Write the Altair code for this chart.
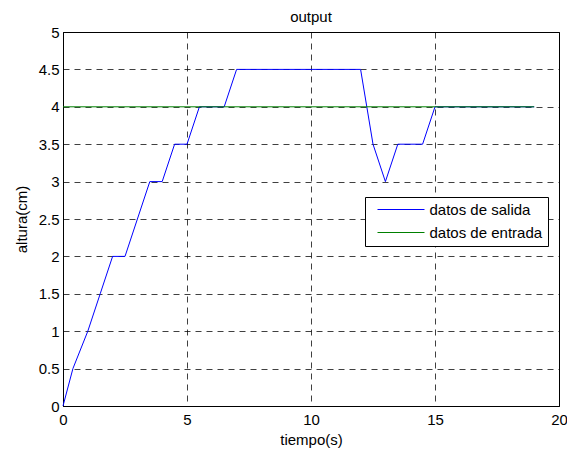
import altair as alt
import pandas as pd

# ---- data ----
t_salida = [0, 0.4, 1, 1.5, 2, 2.5, 3.5, 4, 4.5, 5, 5.5, 6.5, 7, 12, 12.5, 13, 13.5, 14.5, 15, 19]
y_salida = [0, 0.5, 1, 1.5, 2, 2, 3, 3, 3.5, 3.5, 4, 4, 4.5, 4.5, 3.5, 3, 3.5, 3.5, 4, 4]
t_entrada = [0, 19]
y_entrada = [4, 4]
series = ["datos de salida", "datos de entrada"]
colors = ["#0000ff", "#008000"]
x_ticks = [0, 5, 10, 15, 20]
y_ticks = [0, 0.5, 1, 1.5, 2, 2.5, 3, 3.5, 4, 4.5, 5]

rows = []
i = 0
for t, y in zip(t_salida, y_salida):
    rows.append({"t": t, "y": y, "serie": series[0], "idx": i}); i += 1
for t, y in zip(t_entrada, y_entrada):
    rows.append({"t": t, "y": y, "serie": series[1], "idx": i}); i += 1
df = pd.DataFrame(rows)

FONT = "Liberation Sans"

chart = alt.Chart(df).mark_line(strokeWidth=1).encode(
    x=alt.X("t:Q",
            scale=alt.Scale(domain=[0, 20], nice=False, zero=False),
            axis=alt.Axis(values=x_ticks, title="tiempo(s)", format="~g",
                          labelFlush=False, labelOverlap=False,
                          labelBaseline="alphabetic", labelPadding=18,
                          ticks=False, tickSize=0,
                          titleX=248, titleY=38, titleAlign="center",
                          titleBaseline="alphabetic")),
    y=alt.Y("y:Q",
            scale=alt.Scale(domain=[0, 5], nice=False, zero=False),
            axis=alt.Axis(values=y_ticks, title="altura(cm)", format="~g",
                          labelFlush=False, labelOverlap=False,
                          labelPadding=4, ticks=False, tickSize=0,
                          titleX=-37, titleY=187, titleAlign="center",
                          titleBaseline="alphabetic", titleAngle=270)),
    color=alt.Color("serie:N",
                    scale=alt.Scale(domain=series, range=colors),
                    legend=alt.Legend(orient="none", legendX=302, legendY=165,
                                      title=None,
                                      symbolType="M-4.7,0H4.7", symbolSize=100,
                                      symbolStrokeWidth=1,
                                      padding=5, rowPadding=7,
                                      symbolOffset=23.5, labelOffset=21,
                                      strokeColor="black", fillColor="white",
                                      cornerRadius=0,
                                      labelFont=FONT, labelFontSize=15,
                                      labelColor="black",
                                      labelExpr="datum.label + '  '")),
    order=alt.Order("idx:Q"),
).properties(
    width=496,
    height=374,
    padding={"left": 63, "top": 32, "right": 8, "bottom": 46},
    autosize=alt.AutoSizeParams(type="none"),
    title=alt.TitleParams(text="output", fontSize=15, font=FONT,
                          fontWeight="normal", color="black",
                          offset=3.5, dy=15.5, baseline="alphabetic"),
).configure_view(
    stroke="black", strokeWidth=1
).configure_axis(
    labelFont=FONT, labelFontSize=15, labelColor="black",
    titleFont=FONT, titleFontSize=15, titleColor="black", titleFontWeight="normal",
    domainColor="black", domainWidth=1,
    gridColor="black", gridOpacity=0.75, gridDash=[6, 5], gridWidth=1,
)

chart.save("out.html", embed_options={"renderer": "svg", "actions": False})
